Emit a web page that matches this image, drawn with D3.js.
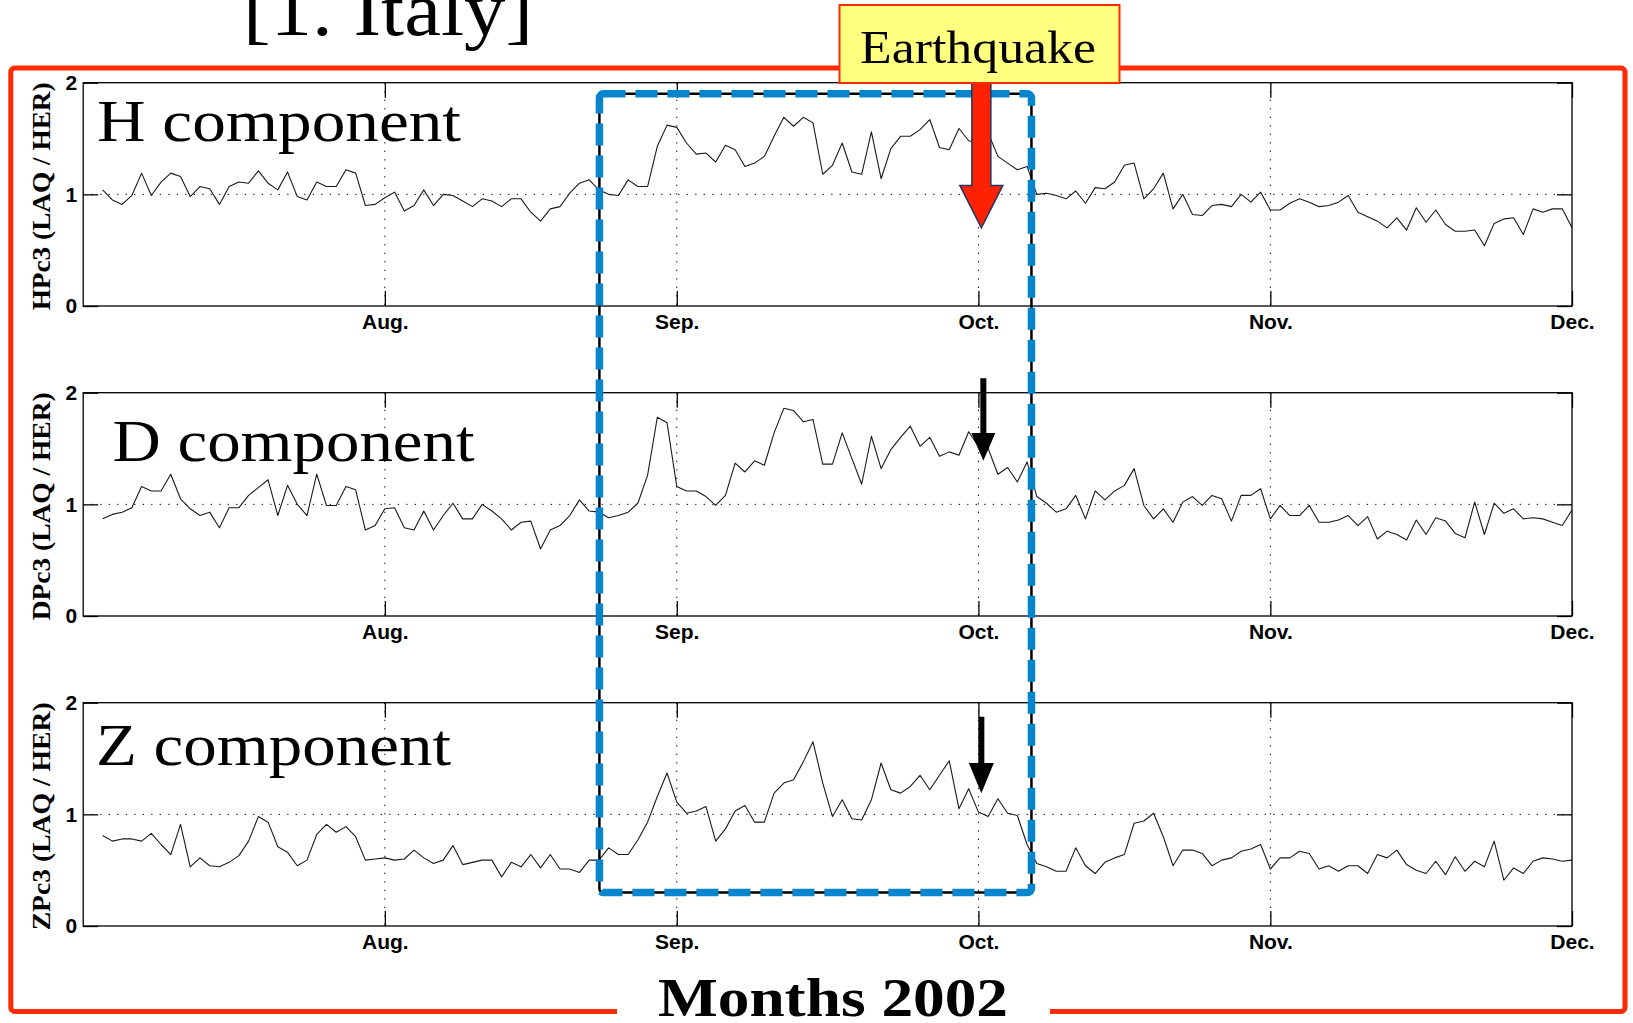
<!DOCTYPE html>
<html><head><meta charset="utf-8">
<script src="https://cdn.jsdelivr.net/npm/d3@7"></script>
<style>body{margin:0;background:#fff;} svg{display:block;}</style>
</head><body><svg id="c" width="1633" height="1023"></svg>
<script>
// ---------------- DATA ----------------
const startDay = 2;                       // first sample = day index 2 (Jul 1 = 0)
const monthTicks = [31, 61, 92, 122, 153];
const monthLabels = ["Aug.", "Sep.", "Oct.", "Nov.", "Dec."];
const yTicks = [0, 1, 2];
const panelNames = ["H component", "D component", "Z component"];
const yLabels = ["HPc3 (LAQ / HER)", "DPc3 (LAQ / HER)", "ZPc3 (LAQ / HER)"];

const hValues = [
 1.04,0.95,0.91,0.99,1.19,0.99,1.11,1.19,1.16,0.98,
 1.07,1.05,0.91,1.07,1.11,1.10,1.21,1.10,1.04,1.20,
 0.98,0.95,1.11,1.07,1.07,1.22,1.19,0.90,0.91,0.97,
 1.02,0.85,0.90,1.04,0.90,1.00,0.99,0.94,0.89,0.96,
 0.94,0.89,0.96,0.96,0.84,0.76,0.87,0.89,1.01,1.10,
 1.13,1.04,1.00,0.99,1.13,1.07,1.07,1.43,1.62,1.60,
 1.46,1.36,1.37,1.29,1.44,1.40,1.25,1.28,1.34,1.52,
 1.69,1.61,1.69,1.64,1.18,1.26,1.46,1.20,1.18,1.56,
 1.14,1.41,1.52,1.52,1.58,1.67,1.42,1.40,1.59,1.48,
 1.46,1.55,1.34,1.28,1.22,1.25,1.00,1.01,0.99,0.96,
 1.03,0.92,1.06,1.05,1.11,1.26,1.28,0.96,1.05,1.19,
 0.87,1.00,0.82,0.81,0.90,0.91,0.89,1.00,0.93,1.02,
 0.86,0.86,0.92,0.96,0.93,0.89,0.90,0.93,0.99,0.84,
 0.80,0.76,0.70,0.79,0.68,0.88,0.75,0.86,0.73,0.67,
 0.67,0.68,0.54,0.74,0.78,0.79,0.64,0.87,0.84,0.87,
 0.87,0.70];

const dValues = [
 0.87,0.91,0.93,0.97,1.16,1.12,1.12,1.27,1.05,0.96,
 0.90,0.93,0.79,0.97,0.97,1.08,1.15,1.22,0.90,1.17,
 1.00,0.90,1.27,0.99,0.99,1.16,1.13,0.77,0.81,0.96,
 0.97,0.79,0.77,0.94,0.77,0.90,1.01,0.87,0.87,1.00,
 0.94,0.87,0.77,0.84,0.85,0.60,0.77,0.81,0.90,1.04,
 0.94,0.93,0.88,0.90,0.93,1.01,1.26,1.78,1.73,1.16,
 1.12,1.12,1.07,0.99,1.08,1.37,1.29,1.39,1.35,1.64,
 1.86,1.84,1.74,1.76,1.36,1.36,1.64,1.41,1.18,1.61,
 1.32,1.49,1.60,1.70,1.52,1.60,1.43,1.47,1.44,1.65,
 1.52,1.50,1.27,1.33,1.20,1.38,1.07,1.01,0.93,0.96,
 1.08,0.87,1.12,1.04,1.12,1.17,1.32,0.99,0.87,0.96,
 0.84,1.02,1.07,0.99,1.08,1.05,0.85,1.08,1.08,1.14,
 0.87,0.99,0.90,0.90,0.99,0.84,0.84,0.86,0.90,0.81,
 0.89,0.69,0.76,0.73,0.68,0.86,0.73,0.88,0.85,0.74,
 0.70,1.02,0.73,1.01,0.92,0.96,0.87,0.88,0.87,0.84,
 0.81,0.95];

const zValues = [
 0.81,0.76,0.78,0.78,0.76,0.83,0.73,0.64,0.91,0.53,
 0.61,0.54,0.53,0.57,0.63,0.76,0.98,0.93,0.71,0.66,
 0.54,0.59,0.82,0.91,0.84,0.89,0.80,0.59,0.60,0.61,
 0.59,0.60,0.68,0.61,0.56,0.59,0.72,0.55,0.57,0.59,
 0.59,0.44,0.57,0.53,0.64,0.52,0.64,0.51,0.51,0.48,
 0.59,0.59,0.70,0.64,0.64,0.77,0.93,1.16,1.37,1.11,
 1.01,1.03,1.07,0.76,0.87,1.03,1.08,0.93,0.93,1.19,
 1.28,1.31,1.47,1.65,1.28,0.98,1.13,0.96,0.95,1.13,
 1.46,1.22,1.19,1.25,1.35,1.22,1.35,1.48,1.05,1.23,
 1.02,0.98,1.14,1.01,0.99,0.73,0.56,0.53,0.49,0.49,
 0.70,0.54,0.47,0.57,0.61,0.64,0.92,0.94,1.01,0.80,
 0.54,0.68,0.68,0.65,0.54,0.59,0.61,0.67,0.69,0.73,
 0.51,0.61,0.61,0.67,0.65,0.51,0.54,0.49,0.54,0.54,
 0.47,0.64,0.61,0.68,0.55,0.50,0.47,0.58,0.46,0.62,
 0.49,0.58,0.53,0.76,0.41,0.52,0.47,0.58,0.61,0.60,
 0.58,0.59];

const seriesList = [hValues, dValues, zValues];
const earthquakeDay = 92.3;
const highlightDays = [53.05, 97.45];

// ---------------- LAYOUT ----------------
const W = 1633, H = 1023;
const plotLeft = 83.2, plotRight = 1572;
const panelTops = [82.7, 392.7, 702.7];
const panelH = 223.3;
const nameLayout = [
  {x: 97, dy: 58.5, len: 364},
  {x: 112.5, dy: 68.3, len: 362},
  {x: 96, dy: 62.3, len: 355}
];

const svg = d3.select("#c");
svg.append("rect").attr("width", W).attr("height", H).attr("fill", "#fff");

const x = d3.scaleLinear().domain([0, 153]).range([plotLeft, plotRight]);
const yScales = panelTops.map(t => d3.scaleLinear().domain([0, 2]).range([t + panelH, t]));

seriesList.forEach((vals, p) => {
  const top = panelTops[p];
  const y = yScales[p];
  const g = svg.append("g");

  // dotted grid
  g.selectAll("line.vg").data(monthTicks.slice(0, 4)).join("line")
    .attr("x1", d => x(d)).attr("x2", d => x(d))
    .attr("y1", top).attr("y2", top + panelH)
    .attr("stroke", "#000").attr("stroke-width", 1)
    .attr("stroke-dasharray", "1.3,7.2");
  g.append("line")
    .attr("x1", plotLeft).attr("x2", plotRight)
    .attr("y1", y(1)).attr("y2", y(1))
    .attr("stroke", "#000").attr("stroke-width", 1)
    .attr("stroke-dasharray", "1.3,7.2");

  // data line
  const line = d3.line().x((d, i) => x(startDay + i)).y(d => y(d));
  g.append("path").datum(vals)
    .attr("d", line).attr("fill", "none")
    .attr("stroke", "#1a1a1a").attr("stroke-width", 1.1)
    .attr("stroke-linejoin", "round");

  // axes
  const bottom = g.append("g").attr("transform", `translate(0,${top + panelH})`)
    .call(d3.axisBottom(x).tickValues(monthTicks)
      .tickFormat((d, i) => monthLabels[i])
      .tickSizeInner(-15).tickSizeOuter(0).tickPadding(8));
  g.append("g").attr("transform", `translate(0,${top})`)
    .call(d3.axisTop(x).tickValues(monthTicks).tickFormat("")
      .tickSizeInner(-15).tickSizeOuter(0));
  const left = g.append("g").attr("transform", `translate(${plotLeft},0)`)
    .call(d3.axisLeft(y).tickValues(yTicks).tickFormat(d3.format("d"))
      .tickSizeInner(-15).tickSizeOuter(0).tickPadding(6));
  g.append("g").attr("transform", `translate(${plotRight},0)`)
    .call(d3.axisRight(y).tickValues(yTicks).tickFormat("")
      .tickSizeInner(-15).tickSizeOuter(0));
  g.selectAll(".domain").remove();
  g.selectAll(".tick line").attr("stroke", "#000").attr("stroke-width", 1.3);
  bottom.selectAll("text").attr("font-family", "Liberation Sans").attr("font-weight", "bold")
    .attr("font-size", 21).attr("fill", "#000");
  left.selectAll("text").attr("font-family", "Liberation Sans").attr("font-weight", "bold")
    .attr("font-size", 21).attr("fill", "#000");

  // frame
  g.append("rect").attr("x", plotLeft).attr("y", top)
    .attr("width", plotRight - plotLeft).attr("height", panelH)
    .attr("fill", "none").attr("stroke", "#000").attr("stroke-width", 1.3);

  // y label
  g.append("text")
    .attr("transform", `translate(50,${top + panelH / 2 + 2}) rotate(-90)`)
    .attr("text-anchor", "middle")
    .attr("font-family", "Liberation Serif").attr("font-weight", "bold")
    .attr("font-size", 26).attr("fill", "#000")
    .attr("textLength", 228).attr("lengthAdjust", "spacingAndGlyphs")
    .text(yLabels[p]);

  // panel name
  const nl = nameLayout[p];
  g.append("text")
    .attr("x", nl.x).attr("y", top + nl.dy)
    .attr("font-family", "Liberation Serif").attr("font-size", 60)
    .attr("textLength", nl.len).attr("lengthAdjust", "spacingAndGlyphs")
    .attr("fill", "#000")
    .text(panelNames[p]);
});

// ---------------- ANNOTATIONS ----------------
const [yH, yD, yZ] = yScales;

// highlight box (blue dashed over black)
const bx0 = x(highlightDays[0]), bx1 = x(highlightDays[1]);
const by0 = yH(1.90), by1 = yZ(0.30);
svg.append("rect").attr("x", bx0).attr("y", by0)
  .attr("width", bx1 - bx0).attr("height", by1 - by0).attr("rx", 4)
  .attr("fill", "none").attr("stroke", "#000").attr("stroke-width", 2.5);
svg.append("rect").attr("x", bx0).attr("y", by0)
  .attr("width", bx1 - bx0).attr("height", by1 - by0).attr("rx", 4)
  .attr("fill", "none").attr("stroke", "#0785cc").attr("stroke-width", 7.5)
  .attr("stroke-dasharray", "22,10");

const ex = x(earthquakeDay);
function arrowPath(cx, top, headTop, tip, shaftHalf, headHalf) {
  return `M${cx - shaftHalf},${top}L${cx + shaftHalf},${top}L${cx + shaftHalf},${headTop}` +
    `L${cx + headHalf},${headTop}L${cx},${tip}L${cx - headHalf},${headTop}L${cx - shaftHalf},${headTop}Z`;
}
// red arrow in H panel
svg.append("path")
  .attr("d", arrowPath(ex, panelTops[0] - 2, yH(1.08), yH(0.70), 9.5, 21.5))
  .attr("fill", "#ff2200").attr("stroke", "#1f3864").attr("stroke-width", 1.5)
  .attr("stroke-linejoin", "miter");
// black arrows in D and Z
svg.append("path")
  .attr("d", arrowPath(ex + 2, yD(2.13), yD(1.64), yD(1.39), 3, 12))
  .attr("fill", "#000");
svg.append("path")
  .attr("d", arrowPath(ex, yZ(1.875), yZ(1.46), yZ(1.19), 3, 12.5))
  .attr("fill", "#000");

// red outer frame
svg.append("rect").attr("x", 10.8).attr("y", 68)
  .attr("width", 1625 - 10.8).attr("height", 1011.5 - 68).attr("rx", 4)
  .attr("fill", "none").attr("stroke", "#ff2a06").attr("stroke-width", 5);
svg.append("rect").attr("x", 617).attr("y", 1000).attr("width", 433).attr("height", 23)
  .attr("fill", "#fff");
svg.append("text").attr("x", 658).attr("y", 1016)
  .attr("font-family", "Liberation Serif").attr("font-weight", "bold").attr("font-size", 54)
  .attr("textLength", 350).attr("lengthAdjust", "spacingAndGlyphs").attr("fill", "#000")
  .text("Months 2002");

// Earthquake label box
svg.append("rect").attr("x", 839.5).attr("y", 5).attr("width", 280).attr("height", 78)
  .attr("fill", "#ffff80").attr("stroke", "#ff2a06").attr("stroke-width", 2);
svg.append("text").attr("x", 860).attr("y", 63)
  .attr("font-family", "Liberation Serif").attr("font-size", 46)
  .attr("textLength", 236).attr("lengthAdjust", "spacingAndGlyphs").attr("fill", "#000")
  .text("Earthquake");

// title (cut at top edge, as in the reference)
svg.append("text").attr("x", 243).attr("y", 35)
  .attr("font-family", "Liberation Serif").attr("font-size", 76)
  .attr("textLength", 290).attr("lengthAdjust", "spacingAndGlyphs").attr("fill", "#000")
  .text("[1. Italy]");
</script>
</body></html>
